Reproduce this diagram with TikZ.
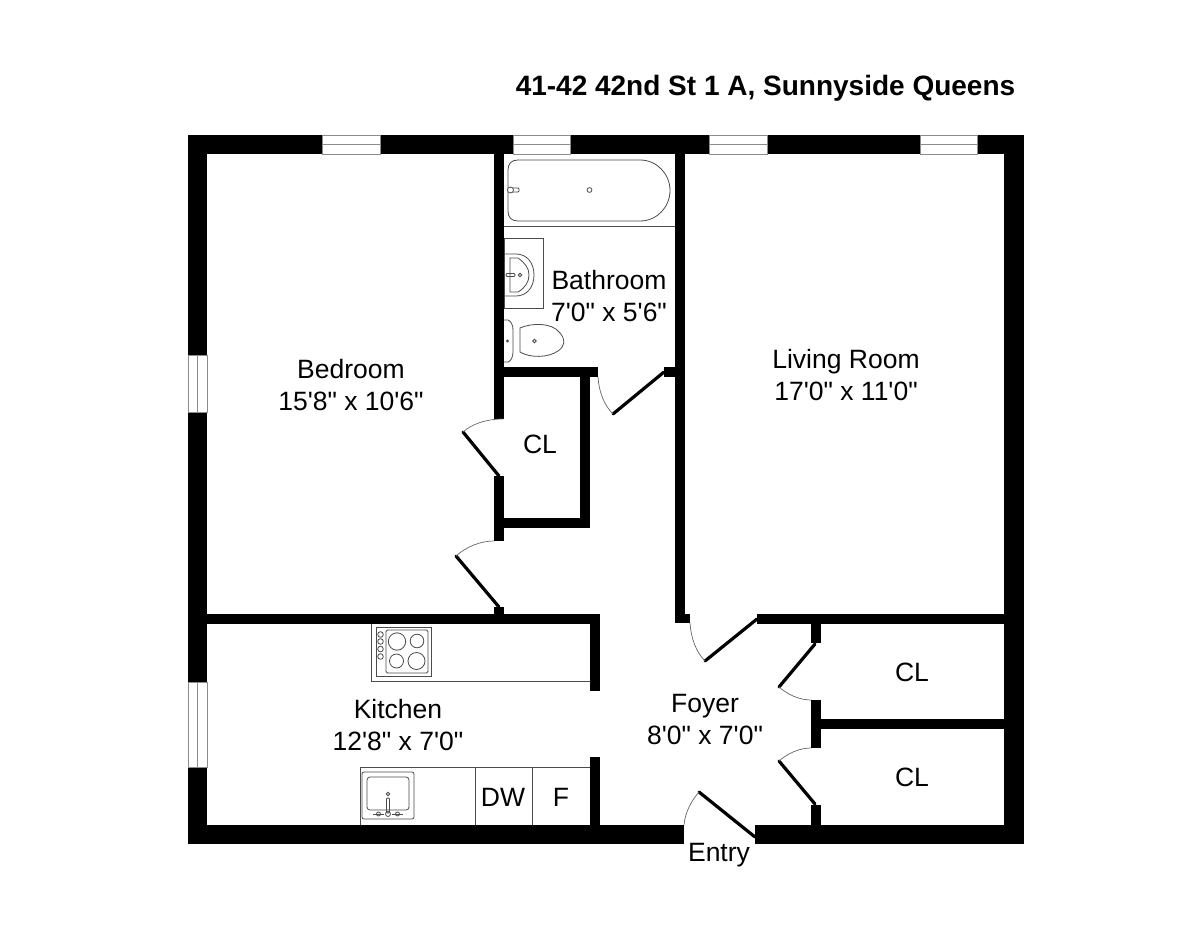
\documentclass[tikz,border=0pt]{standalone}
\usepackage{fontspec}
\setmainfont{Liberation Sans}[Ligatures=TeXOff]
\tikzset{
 x=1pt,y=-1pt,
 wall/.style={fill=black,draw=none},
 leaf/.style={draw=black,line width=3.2pt,line cap=round},
 swing/.style={draw=black!60,line width=0.7pt},
 fixt/.style={draw=black!70,line width=0.8pt},
 win/.style={draw=black!45,line width=0.8pt,fill=white},
 roomlabel/.style={font=\fontsize{26.5}{28}\selectfont,align=center,inner sep=0pt},
}
\begin{document}
\begin{tikzpicture}
\useasboundingbox (0,0) rectangle (1200,928);
\fill[white] (0,0) rectangle (1200,928);
% outer walls
\fill[wall] (188,135) rectangle (1024,154);
\fill[wall] (188,135) rectangle (207,844);
\fill[wall] (1004,135) rectangle (1024,844);
\fill[wall] (188,825) rectangle (684,844);
\fill[wall] (755,825) rectangle (1024,844);
% top windows
\foreach \a/\b in {322/380,513/570,709/767,920/977}{
 \draw[win] (\a,135) rectangle (\b,154);
 \draw[win] (\a,144.5) -- (\b,144.5);
}
% left windows
\foreach \a/\b in {355/412,682/767}{
 \draw[win] (188,\a) rectangle (207,\b);
 \draw[win] (197.5,\a) -- (197.5,\b);
}
% interior walls
\fill[wall] (494,154) rectangle (504,419);
\fill[wall] (494,476) rectangle (504,541);
\fill[wall] (494,367) rectangle (598,377);
\fill[wall] (580,377) rectangle (590,528);
\fill[wall] (504,518) rectangle (590,528);
\fill[wall] (494,607) rectangle (504,614);
\fill[wall] (675,154) rectangle (685,623);
\fill[wall] (664,367) rectangle (675,377);
\fill[wall] (675,614) rectangle (690,623);
\fill[wall] (207,614) rectangle (600,624);
\fill[wall] (590,624) rectangle (600,691);
\fill[wall] (590,757) rectangle (600,825);
\fill[wall] (757,614) rectangle (1004,624);
\fill[wall] (811,624) rectangle (821,643);
\fill[wall] (811,700) rectangle (821,748);
\fill[wall] (821,719) rectangle (1004,729);
\fill[wall] (811,805) rectangle (821,825);
% doors
\coordinate (d1h) at (499,476); \coordinate (d1t) at (463,432); \coordinate (d1e) at (503,419);
\coordinate (d2h) at (499,607); \coordinate (d2t) at (456,556); \coordinate (d2e) at (494,541);
\coordinate (d3h) at (664,372); \coordinate (d3t) at (613,414); \coordinate (d3e) at (598,377);
\coordinate (d4h) at (757,619); \coordinate (d4t) at (705,661); \coordinate (d4e) at (690,623);
\coordinate (d5h) at (815,644); \coordinate (d5t) at (779,687); \coordinate (d5e) at (811,700);
\coordinate (d6h) at (815,804); \coordinate (d6t) at (779,761); \coordinate (d6e) at (811,748);
\coordinate (d7h) at (755,837); \coordinate (d7t) at (699,792); \coordinate (d7e) at (684,825);
\draw[leaf] (d1h) -- (d1t); \draw[leaf] (d2h) -- (d2t); \draw[leaf] (d3h) -- (d3t);
\draw[leaf] (d4h) -- (d4t); \draw[leaf] (d5h) -- (d5t); \draw[leaf] (d6h) -- (d6t);
\draw[leaf] (d7h) -- (d7t);
\draw[swing] (d1t) .. controls (472,424) and (486,419) .. (d1e);
\draw[swing] (d2t) .. controls (466,547) and (480,541) .. (d2e);
\draw[swing] (d3t) .. controls (604,405) and (599,392) .. (d3e);
\draw[swing] (d4t) .. controls (696,652) and (691,638) .. (d4e);
\draw[swing] (d5t) .. controls (788,695) and (800,700) .. (d5e);
\draw[swing] (d6t) .. controls (788,753) and (800,748) .. (d6e);
\draw[swing] (d7t) .. controls (691,801) and (685,813) .. (d7e);
% tub
\draw[fixt] (504,226) -- (675,226);
\draw[fixt] (518,160) -- (640,160) .. controls (657,160) and (670,174) .. (670,190.5) .. controls (670,207) and (657,221) .. (640,221) -- (518,221)
 .. controls (511,221) and (508,217) .. (508,211) -- (508,170) .. controls (508,164) and (511,160) .. (518,160) -- cycle;
\draw[fixt] (589.5,190) circle[radius=2.4];
\draw[fixt,rounded corners=1pt] (510,188) rectangle (519,192);
\draw[fixt,fill=white] (510.5,190) circle[radius=3];
% sink
\draw[fixt] (504,238) rectangle (543,308);
\draw[fixt] (504,254) -- (516,254) .. controls (527,254) and (534,263) .. (534,275) .. controls (534,287) and (527,296) .. (516,296) -- (504,296);
\draw[fixt] (510,258) -- (518,258) .. controls (525,263) and (529,268) .. (529,275) .. controls (529,282) and (525,288) .. (518,292) -- (510,292) -- cycle;
\draw[fixt] (520,275) circle[radius=1.8];
\draw[fixt,rounded corners=1pt] (506,273.5) rectangle (515,276.5);
% toilet
\draw[fixt] (504,320) -- (508,320) .. controls (511,321) and (513,325) .. (513,330) -- (513,352) .. controls (513,357) and (511,361) .. (508,362) -- (504,362);
\draw[fixt] (520,328) .. controls (531,323) and (552,322) .. (560,333) .. controls (566,340) and (565,346) .. (558,351) .. controls (548,358) and (530,358) .. (520,352) -- cycle;
\draw[fixt] (534.5,341) circle[radius=1.8];
\draw[fixt] (507.5,341) circle[radius=1];
% kitchen
\draw[fixt] (371,624) -- (371,681) -- (590,681);
\draw[fixt] (376,627) rectangle (431,676);
\draw[fixt,rounded corners=1.5pt] (386,630) rectangle (428,673);
\draw[fixt] (397,641.5) circle[radius=8.7];
\draw[fixt] (417,641) circle[radius=6.8];
\draw[fixt] (396.5,661) circle[radius=7];
\draw[fixt] (416.5,661) circle[radius=8.5];
\foreach \k in {634.5,641.5,649,656.5}{\draw[fixt] (380.5,\k) circle[radius=2.8];}
\draw[fixt] (360,825) -- (360,767) -- (590,767);
\draw[fixt] (475,767) -- (475,825);
\draw[fixt] (532,767) -- (532,825);
\draw[fixt,rounded corners=2pt] (362,772) rectangle (414,819);
\draw[fixt,rounded corners=3pt] (367,777) rectangle (409,810);
\draw[fixt] (388,794) circle[radius=1.8];
\draw[fixt,rounded corners=1pt] (386.5,798) rectangle (389.5,813);
\draw[fixt] (388,814) circle[radius=2.5];
\draw[fixt] (378.5,814) circle[radius=2];
\draw[fixt] (397.5,814) circle[radius=2];
\draw[fixt] (373,814) -- (384,814);
\draw[fixt] (392,814) -- (403,814);
% labels
\node[font=\bfseries\fontsize{28}{32}\selectfont,inner sep=0pt] (title) at (765.5,88) {41-42 42nd St 1 A, Sunnyside Queens};
\node[roomlabel] (bedroom) at (351,385) {Bedroom\\[4pt]15'8" x 10'6"};
\node[roomlabel] (bath) at (609,296.5) {Bathroom\\[4pt]7'0" x 5'6"};
\node[roomlabel] (living) at (846,375) {Living Room\\[4pt]17'0" x 11'0"};
\node[roomlabel] (kitchen) at (398,725) {Kitchen\\[4pt]12'8" x 7'0"};
\node[roomlabel] (foyer) at (705,720) {Foyer\\[4pt]8'0" x 7'0"};
\node[roomlabel] (cl1) at (540,444) {CL};
\node[roomlabel] (cl2) at (912,672) {CL};
\node[roomlabel] (cl3) at (912,777) {CL};
\node[roomlabel] (dw) at (503,797) {DW};
\node[roomlabel] (f) at (561,797) {F};
\node[roomlabel] (entry) at (719,855) {Entry};
\end{tikzpicture}
\end{document}
